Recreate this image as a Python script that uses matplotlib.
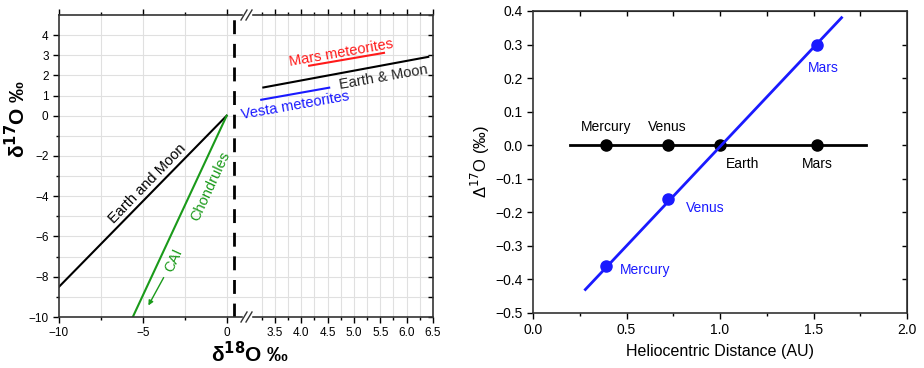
import numpy as np
import matplotlib
matplotlib.use('Agg')
import matplotlib.pyplot as plt
from matplotlib.ticker import MultipleLocator, FixedLocator

plt.rcParams['font.family'] = ['Liberation Sans', 'DejaVu Sans']

# left panel, low-d18O section (three-isotope plot)
earth_moon_d18 = [-10.0, 0.0]
earth_moon_d17 = [-8.5, 0.0]
chondrule_d18 = [-5.6, 0.0]
chondrule_d17 = [-10.0, 0.0]
dashed_x = 0.42

# left panel, high-d18O section
earth_hi_d18 = [3.28, 6.41]
earth_hi_d17 = [1.40, 2.92]
mars_met_d18 = [4.15, 5.57]
mars_met_d17 = [2.48, 3.12]
vesta_d18 = [3.24, 4.53]
vesta_d17 = [0.79, 1.39]

# right panel
planets = ['Mercury', 'Venus', 'Earth', 'Mars']
dist = [0.39, 0.72, 1.00, 1.52]
dcap_flat = [0.0, 0.0, 0.0, 0.0]
flat_x = [0.20, 1.78]
flat_y = [0.0, 0.0]
grad_planets = ['Mercury', 'Venus', 'Mars']
grad_dist = [0.39, 0.72, 1.52]
grad_dcap = [-0.36, -0.16, 0.30]
fit_x = [0.28, 1.65]
fit_y = [-0.43, 0.38]

W, H = 924, 368
fig = plt.figure(figsize=(W / 100, H / 100), dpi=100)

def px(x0, y0, x1, y1):
    return [x0 / W, 1 - y1 / H, (x1 - x0) / W, (y1 - y0) / H]

def mlabels(vals, fmt):
    out = [(fmt % v).replace('-', '\u2212') for v in vals]
    return ['0.0' if l == '\u22120.0' else l for l in out]

ax1 = fig.add_axes(px(59, 15, 247, 317))
ax2 = fig.add_axes(px(247, 15, 433, 317))
ax3 = fig.add_axes(px(533, 11, 907, 313))

grid_c = '#e0e0e0'
tick_fs = 8.5
txt_fs = 10.5

# ---- low section
ax1.set_xlim(-10, 1.21)
ax1.set_ylim(-10, 5)
xt1 = [-10, -5, 0]
yt1 = [-10, -8, -6, -4, -2, 0, 1, 2, 3, 4]
ax1.set_xticks(xt1)
ax1.set_xticklabels(mlabels(xt1, '%d'))
ax1.xaxis.set_minor_locator(FixedLocator([-7.5, -2.5]))
ax1.set_yticks(yt1)
ax1.set_yticklabels(mlabels(yt1, '%d'))
ax1.yaxis.set_minor_locator(FixedLocator([-9, -7, -5, -3, -1]))
for x in [-7.5, -5, -2.5, 0]:
    ax1.axvline(x, color=grid_c, lw=0.8, zorder=0)
for y in range(-9, 5):
    ax1.axhline(y, color=grid_c, lw=0.8, zorder=0)
ax1.spines['right'].set_visible(False)
ax1.tick_params(axis='both', which='major', labelsize=tick_fs, length=4, width=1, direction='out')
ax1.tick_params(axis='both', which='minor', length=2.5, width=1, direction='out')
ax1.tick_params(axis='x', which='both', top=True)

ax1.plot(earth_moon_d18, earth_moon_d17, color='black', lw=1.5)
ax1.plot(chondrule_d18, chondrule_d17, color='#1a9a1a', lw=1.5)
ax1.axvline(dashed_x, color='black', lw=2, dashes=(5, 3.5))
ax1.text(-4.75, -3.37, 'Earth and Moon', rotation=46, ha='center', va='center', fontsize=txt_fs)
ax1.text(-0.94, -3.51, 'Chondrules', rotation=65, ha='center', va='center', fontsize=txt_fs, color='#1a9a1a')
ax1.text(-3.14, -7.18, 'CAI', rotation=65, ha='center', va='center', fontsize=txt_fs, color='#1a9a1a')
ax1.annotate('', xy=(-4.75, -9.55), xytext=(-3.68, -7.92),
             arrowprops=dict(arrowstyle='-|>', color='#1a9a1a', lw=1, mutation_scale=7))
ax1.set_ylabel('\u03b4$^{\\mathbf{17}}$O \u2030', fontsize=15, fontweight='bold')
ax1.yaxis.set_label_coords((29 - 59) / 188, 0.656)

# ---- high section
ax2.set_xlim(2.97, 6.5)
ax2.set_ylim(-10, 5)
ax2.xaxis.set_major_locator(FixedLocator([3.5, 4.0, 4.5, 5.0, 5.5, 6.0, 6.5]))
ax2.xaxis.set_minor_locator(FixedLocator([3.25, 3.75, 4.25, 4.75, 5.25, 5.75, 6.25]))
ax2.yaxis.set_major_locator(MultipleLocator(1))
for x in np.arange(3.25, 6.5, 0.25):
    ax2.axvline(x, color=grid_c, lw=0.8, zorder=0)
for y in range(-9, 5):
    ax2.axhline(y, color=grid_c, lw=0.8, zorder=0)
ax2.spines['left'].set_visible(False)
ax2.tick_params(axis='y', which='both', left=False, labelleft=False, right=True, direction='in', length=3.5, width=1)
ax2.tick_params(axis='x', which='major', labelsize=tick_fs, length=4, width=1, direction='out', top=True)
ax2.tick_params(axis='x', which='minor', length=2.5, width=1, direction='out', top=True)
ax2.plot(earth_hi_d18, earth_hi_d17, color='black', lw=1.5)
ax2.plot(mars_met_d18, mars_met_d17, color='#ff1a1a', lw=1.5)
ax2.plot(vesta_d18, vesta_d17, color='#1a1aff', lw=1.5)
ax2.text(4.75, 3.12, 'Mars meteorites', rotation=10, ha='center', va='center', fontsize=txt_fs, color='#ff1a1a')
ax2.text(5.55, 1.93, 'Earth & Moon', rotation=10, ha='center', va='center', fontsize=txt_fs, color='#222222')
ax2.text(3.88, 0.50, 'Vesta meteorites', rotation=10, ha='center', va='center', fontsize=txt_fs, color='#1a1aff')

for ax in (ax1, ax2):
    for s in ax.spines.values():
        s.set_linewidth(1.2)
        s.set_color('#333333')

fig.text(250 / W, 1 - 354 / H, '\u03b4$^{\\mathbf{18}}$O \u2030', fontsize=15, fontweight='bold',
         ha='center', va='center')

# break marks
for yb in (15, 317):
    fig.patches.append(plt.Rectangle((243 / W, 1 - (yb + 3) / H), 8 / W, 6 / H,
                                     transform=fig.transFigure, color='white', zorder=5))
    for dx in (-3, 2):
        xc = 247 + dx
        fig.lines.append(plt.Line2D([(xc - 3) / W, (xc + 3) / W], [1 - (yb + 5) / H, 1 - (yb - 5) / H],
                                    transform=fig.transFigure, color='#333333', lw=1, zorder=6))

# ---- right panel
ax3.set_xlim(0, 2.0)
ax3.set_ylim(-0.5, 0.4)
xt3 = [0.0, 0.5, 1.0, 1.5, 2.0]
yt3 = list(np.round(np.arange(-0.5, 0.41, 0.1), 1))
ax3.set_xticks(xt3)
ax3.set_xticklabels(mlabels(xt3, '%.1f'))
ax3.xaxis.set_minor_locator(FixedLocator([0.25, 0.75, 1.25, 1.75]))
ax3.set_yticks(yt3)
ax3.set_yticklabels(mlabels(yt3, '%.1f'))
ax3.tick_params(axis='both', which='major', labelsize=10, length=4, width=1, direction='out')
ax3.tick_params(axis='both', which='minor', length=2.5, width=1, direction='out')
for s in ax3.spines.values():
    s.set_linewidth(1.2)
    s.set_color('#333333')

sec_top = ax3.secondary_xaxis('top')
sec_top.set_xticks([0.25, 0.5, 0.75, 1.0, 1.25, 1.5, 1.75])
sec_top.tick_params(direction='in', length=3.5, width=1, labeltop=False)
sec_right = ax3.secondary_yaxis('right')
sec_right.set_yticks(yt3[1:-1])
sec_right.tick_params(direction='in', length=3.5, width=1, labelright=False)

ax3.plot(flat_x, flat_y, color='black', lw=2)
ax3.plot(dist, dcap_flat, 'o', color='black', ms=8)
ax3.plot(fit_x, fit_y, color='#1a1aff', lw=2)
ax3.plot(grad_dist, grad_dcap, 'o', color='#1a1aff', ms=8)

for name, x in zip(planets, dist):
    if name in ('Mercury', 'Venus'):
        ax3.text(x, 0.055, name, ha='center', va='center', fontsize=10)
    else:
        ax3.text(x + (0.12 if name == 'Earth' else 0.0), -0.055, name, ha='center', va='center', fontsize=10)

grad_offsets = {'Mercury': (0.21, -0.012), 'Venus': (0.20, -0.028), 'Mars': (0.03, -0.07)}
for name, x, y in zip(grad_planets, grad_dist, grad_dcap):
    ox, oy = grad_offsets[name]
    ax3.text(x + ox, y + oy, name, ha='center', va='center', fontsize=10, color='#1a1aff')

ax3.set_xlabel('Heliocentric Distance (AU)', fontsize=11.5, labelpad=5)
ax3.set_ylabel('\u0394$^{17}$O (\u2030)', fontsize=12, labelpad=2)

fig.savefig('out.png', dpi=100)
